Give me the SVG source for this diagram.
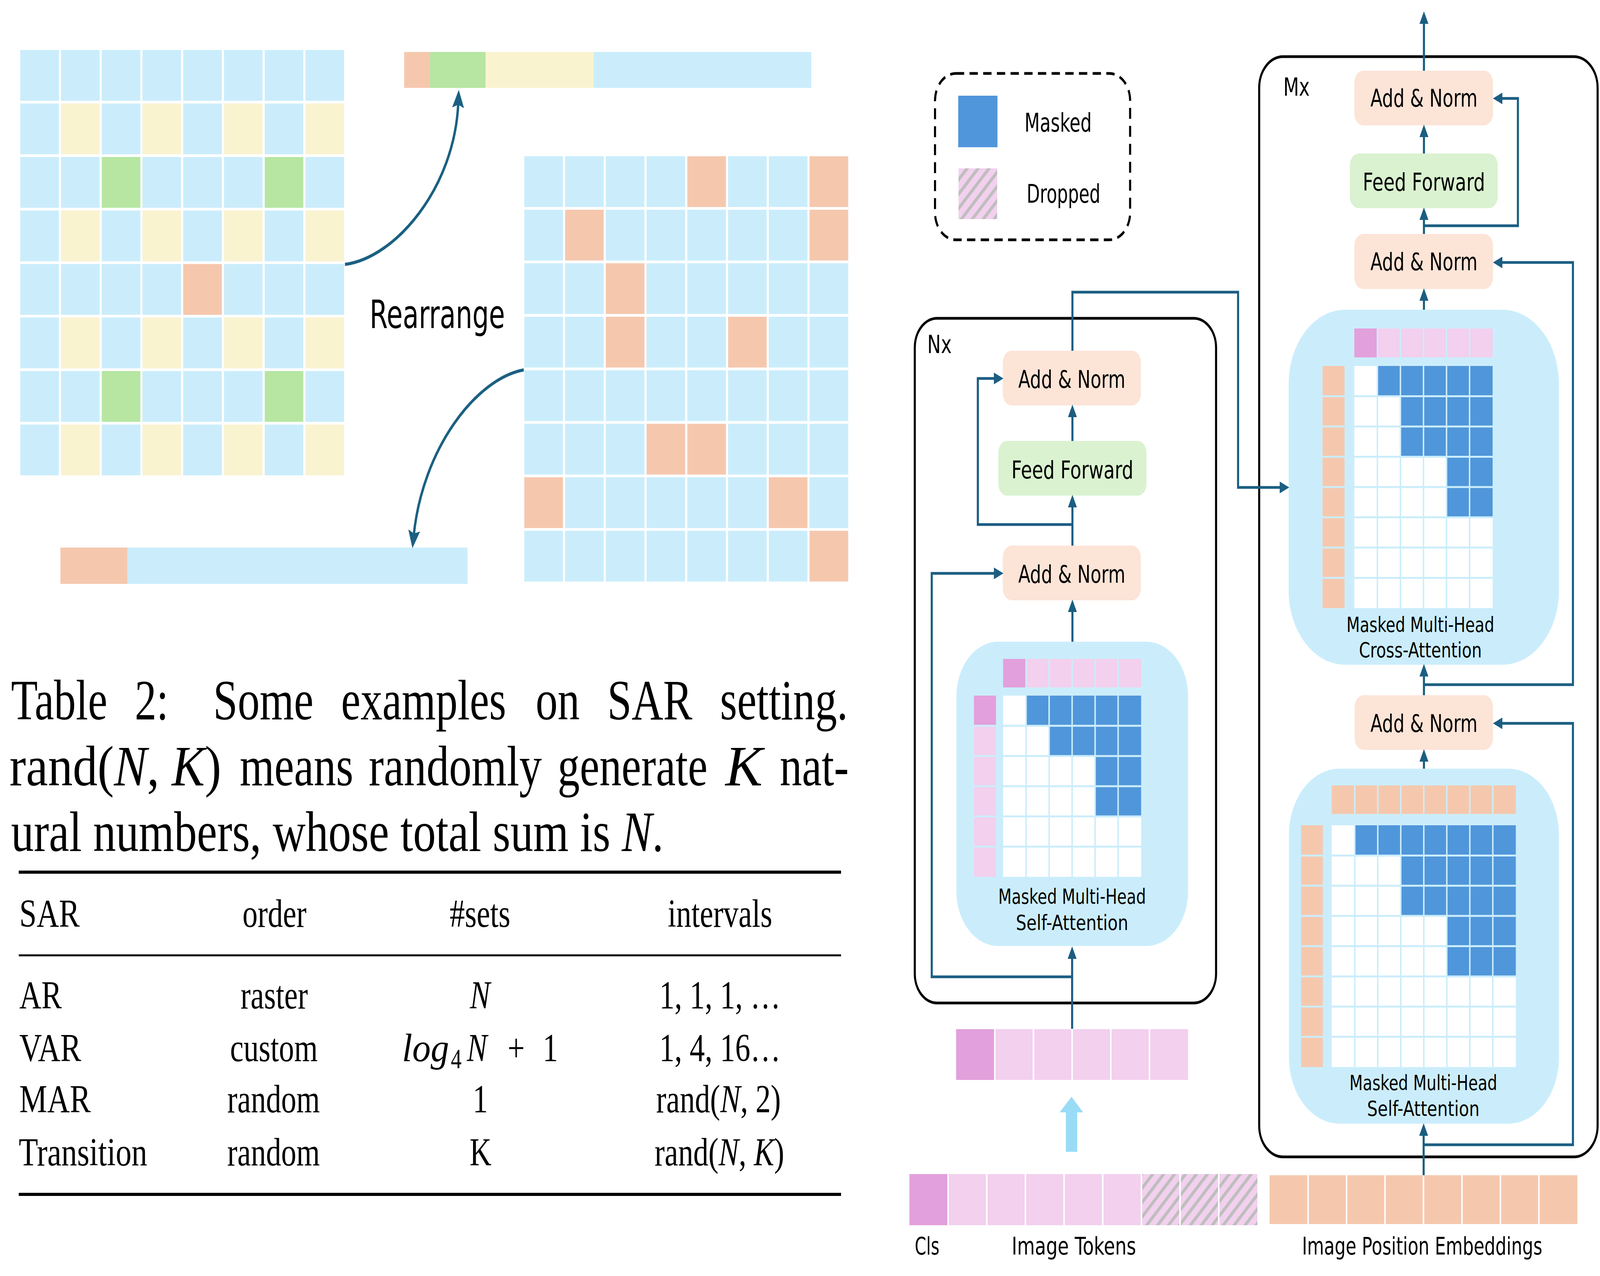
<svg xmlns="http://www.w3.org/2000/svg" width="5380" height="3267" viewBox="0 0 5380 3267" preserveAspectRatio="none">
<defs>
<style>
svg:root{width:100vw;height:100vh;display:block}
.lb{fill:#CBEDFB}
.yl{fill:#FAF3D0}
.gr{fill:#B6E6A2}
.or{fill:#F5C8AE}
.pd{fill:#E2A0DC}
.pl{fill:#F2D0EE}
.mk{fill:#5096DA}
.wh{fill:#FFFFFF}
.an{fill:#FCE4D7}
.ff{fill:#DAF2D0}
.gapw{stroke:#FFFFFF;fill:none}
.gapb{stroke:#CBEDFB;fill:none;stroke-width:5}
.conn{stroke:#1B5E82;stroke-width:7;fill:none}
.curve{stroke:#1A6082;stroke-width:8;fill:none}
.box{fill:none;stroke:#000000;stroke-width:7}
.t{font-family:"DejaVu Sans",sans-serif;fill:#000000}
.s{font-family:"Liberation Serif","Times New Roman",serif;fill:#000000}
</style>
<marker id="ah" markerUnits="userSpaceOnUse" markerWidth="32" markerHeight="30" viewBox="0 0 32 30" refX="10" refY="15" orient="auto">
<path d="M0,0 L32,15 L0,30 z" fill="#1B5E82"/>
</marker>
<marker id="ahc" markerUnits="userSpaceOnUse" markerWidth="46" markerHeight="40" viewBox="0 0 46 40" refX="14" refY="20" orient="auto">
<path d="M0,0 L46,20 L0,40 L8,20 z" fill="#1A6082"/>
</marker>
<pattern id="hatch" width="26" height="26" patternUnits="userSpaceOnUse" patternTransform="rotate(45)">
<rect width="26" height="26" fill="#F2D0EE"/>
<rect width="9" height="26" fill="#BEBEBE"/>
</pattern>
</defs>
<rect width="5380" height="3267" fill="#FFFFFF"/>

<!-- Left grid A -->
<g id="gridA">
<rect class="lb" x="68" y="128" width="1089" height="1089"/>
<rect class="yl" x="205" y="265" width="137" height="137"/><rect class="yl" x="479" y="265" width="137" height="137"/><rect class="yl" x="753" y="265" width="137" height="137"/><rect class="yl" x="1027" y="265" width="130" height="137"/>
<rect class="yl" x="205" y="539" width="137" height="137"/><rect class="yl" x="479" y="539" width="137" height="137"/><rect class="yl" x="753" y="539" width="137" height="137"/><rect class="yl" x="1027" y="539" width="130" height="137"/>
<rect class="yl" x="205" y="813" width="137" height="137"/><rect class="yl" x="479" y="813" width="137" height="137"/><rect class="yl" x="753" y="813" width="137" height="137"/><rect class="yl" x="1027" y="813" width="130" height="137"/>
<rect class="yl" x="205" y="1087" width="137" height="130"/><rect class="yl" x="479" y="1087" width="137" height="130"/><rect class="yl" x="753" y="1087" width="137" height="130"/><rect class="yl" x="1027" y="1087" width="130" height="130"/>
<rect class="gr" x="342" y="402" width="137" height="137"/><rect class="gr" x="890" y="402" width="137" height="137"/>
<rect class="gr" x="342" y="950" width="137" height="137"/><rect class="gr" x="890" y="950" width="137" height="137"/>
<rect class="or" x="616" y="676" width="137" height="137"/>
<path class="gapw" stroke-width="7" d="M201.5,128V1217M338.5,128V1217M475.5,128V1217M612.5,128V1217M749.5,128V1217M886.5,128V1217M1023.5,128V1217M68,261.5H1157M68,398.5H1157M68,535.5H1157M68,672.5H1157M68,809.5H1157M68,946.5H1157M68,1083.5H1157"/>
</g>

<!-- Right grid B -->
<g id="gridB">
<rect class="lb" x="1763" y="400" width="1089" height="1089"/>
<rect class="or" x="2311" y="400" width="137" height="137"/><rect class="or" x="2722" y="400" width="130" height="137"/>
<rect class="or" x="1900" y="537" width="137" height="137"/><rect class="or" x="2722" y="537" width="130" height="137"/>
<rect class="or" x="2037" y="674" width="137" height="137"/>
<rect class="or" x="2037" y="811" width="137" height="137"/><rect class="or" x="2448" y="811" width="137" height="137"/>
<rect class="or" x="2174" y="1085" width="137" height="137"/><rect class="or" x="2311" y="1085" width="137" height="137"/>
<rect class="or" x="1763" y="1222" width="137" height="137"/><rect class="or" x="2585" y="1222" width="137" height="137"/>
<rect class="or" x="2722" y="1359" width="130" height="130"/>
<path class="gapw" stroke-width="7" d="M1896.5,400V1489M2033.5,400V1489M2170.5,400V1489M2307.5,400V1489M2444.5,400V1489M2581.5,400V1489M2718.5,400V1489M1763,533.5H2852M1763,670.5H2852M1763,807.5H2852M1763,944.5H2852M1763,1081.5H2852M1763,1218.5H2852M1763,1355.5H2852"/>
</g>

<g id="topBar">
<rect class="or" x="1359" y="133" width="87" height="92"/>
<rect class="gr" x="1446" y="133" width="187" height="92"/>
<rect class="yl" x="1633" y="133" width="363" height="92"/>
<rect class="lb" x="1996" y="133" width="732" height="92"/>
</g>
<g id="bottomBar">
<rect class="or" x="203" y="1402" width="226" height="93"/>
<rect class="lb" x="429" y="1402" width="1143" height="93"/>
</g>
<g id="rearrangeLabel">
<text class="t" x="1243" y="840" font-size="100" textLength="455" lengthAdjust="spacingAndGlyphs">Rearrange</text>
</g>

<!-- Caption and table -->
<g id="caption">
<text class="s" x="37" y="1842" font-size="146" textLength="324" lengthAdjust="spacingAndGlyphs">Table</text>
<text class="s" x="453" y="1842" font-size="146">2:</text>
<text class="s" x="717" y="1842" font-size="146" textLength="337" lengthAdjust="spacingAndGlyphs">Some</text>
<text class="s" x="1147" y="1842" font-size="146" textLength="555" lengthAdjust="spacingAndGlyphs">examples</text>
<text class="s" x="1801" y="1842" font-size="146" textLength="148" lengthAdjust="spacingAndGlyphs">on</text>
<text class="s" x="2042" y="1842" font-size="146" textLength="286" lengthAdjust="spacingAndGlyphs">SAR</text>
<text class="s" x="2421" y="1842" font-size="146" textLength="430" lengthAdjust="spacingAndGlyphs">setting.</text>
<text class="s" x="32" y="2011" font-size="146" textLength="712" lengthAdjust="spacingAndGlyphs">rand(<tspan font-style="italic">N</tspan>, <tspan font-style="italic">K</tspan>)</text>
<text class="s" x="806" y="2011" font-size="146" textLength="382" lengthAdjust="spacingAndGlyphs">means</text>
<text class="s" x="1240" y="2011" font-size="146" textLength="582" lengthAdjust="spacingAndGlyphs">randomly</text>
<text class="s" x="1875" y="2011" font-size="146" textLength="504" lengthAdjust="spacingAndGlyphs">generate</text>
<text class="s" x="2439" y="2011" font-size="146" font-style="italic" textLength="125" lengthAdjust="spacingAndGlyphs">K</text>
<text class="s" x="2622" y="2011" font-size="146" textLength="232" lengthAdjust="spacingAndGlyphs">nat-</text>
<text class="s" x="37" y="2179" font-size="146" textLength="2194" lengthAdjust="spacingAndGlyphs">ural numbers, whose total sum is <tspan font-style="italic">N</tspan>.</text>
</g>
<g id="table">
<path d="M63,2233H2828" stroke="#000" stroke-width="8"/>
<path d="M63,2446H2828" stroke="#000" stroke-width="5"/>
<path d="M63,3058H2828" stroke="#000" stroke-width="8"/>
<text class="s" x="65" y="2373" font-size="102" textLength="203" lengthAdjust="spacingAndGlyphs">SAR</text>
<text class="s" x="923" y="2373" font-size="102" text-anchor="middle">order</text>
<text class="s" x="1614" y="2373" font-size="102" text-anchor="middle">#sets</text>
<text class="s" x="2421" y="2373" font-size="102" text-anchor="middle">intervals</text>
<text class="s" x="65" y="2582" font-size="102" textLength="143" lengthAdjust="spacingAndGlyphs">AR</text>
<text class="s" x="922" y="2582" font-size="102" text-anchor="middle">raster</text>
<text class="s" x="1614" y="2582" font-size="102" text-anchor="middle" font-style="italic">N</text>
<text class="s" x="2421" y="2582" font-size="102" text-anchor="middle">1, 1, 1, …</text>
<text class="s" x="65" y="2717" font-size="102" textLength="208" lengthAdjust="spacingAndGlyphs">VAR</text>
<text class="s" x="921" y="2717" font-size="102" text-anchor="middle">custom</text>
<text class="s" x="1352" y="2717" font-size="102" font-style="italic" textLength="158" lengthAdjust="spacingAndGlyphs">log</text>
<text class="s" x="1516" y="2735" font-size="72">4</text>
<text class="s" x="1570" y="2717" font-size="102" font-style="italic">N</text>
<text class="s" x="1707" y="2717" font-size="102">+</text>
<text class="s" x="1825" y="2717" font-size="102">1</text>
<text class="s" x="2421" y="2717" font-size="102" text-anchor="middle">1, 4, 16…</text>
<text class="s" x="65" y="2848" font-size="102" textLength="240" lengthAdjust="spacingAndGlyphs">MAR</text>
<text class="s" x="920" y="2848" font-size="102" text-anchor="middle">random</text>
<text class="s" x="1615" y="2848" font-size="102" text-anchor="middle">1</text>
<text class="s" x="2416" y="2848" font-size="102" text-anchor="middle">rand(<tspan font-style="italic">N</tspan>, 2)</text>
<text class="s" x="63" y="2984" font-size="102" textLength="432" lengthAdjust="spacingAndGlyphs">Transition</text>
<text class="s" x="920" y="2984" font-size="102" text-anchor="middle">random</text>
<text class="s" x="1616" y="2984" font-size="102" text-anchor="middle">K</text>
<text class="s" x="2419" y="2984" font-size="102" text-anchor="middle">rand(<tspan font-style="italic">N</tspan>, <tspan font-style="italic">K</tspan>)</text>
</g>

<!-- Legend -->
<g id="legend">
<rect x="3144" y="188" width="656" height="426" rx="70" fill="none" stroke="#000" stroke-width="7" stroke-dasharray="28 18"/>
<rect class="mk" x="3222" y="245" width="132" height="132"/>
<rect x="3223" y="431" width="130" height="130" fill="url(#hatch)"/>
<text class="t" x="3445" y="337" font-size="66" textLength="226" lengthAdjust="spacingAndGlyphs">Masked</text>
<text class="t" x="3452" y="519" font-size="66" textLength="248" lengthAdjust="spacingAndGlyphs">Dropped</text>
</g>

<!-- Nx block -->
<g id="nxBox">
<rect class="box" x="3076" y="815" width="1013" height="1753" rx="75"/>
<text class="t" x="3118" y="904" font-size="64" textLength="82" lengthAdjust="spacingAndGlyphs">Nx</text>
</g>
<g id="nxAddNormTop">
<rect class="an" x="3372" y="898" width="464" height="140" rx="30"/>
<text class="t" x="3604" y="993" font-size="62" text-anchor="middle" textLength="360" lengthAdjust="spacingAndGlyphs">Add &amp; Norm</text>
</g>
<g id="nxFeedForward">
<rect class="ff" x="3357" y="1129" width="498" height="140" rx="30"/>
<text class="t" x="3606" y="1225" font-size="62" text-anchor="middle" textLength="410" lengthAdjust="spacingAndGlyphs">Feed Forward</text>
</g>
<g id="nxAddNormBottom">
<rect class="an" x="3372" y="1397" width="464" height="140" rx="30"/>
<text class="t" x="3604" y="1492" font-size="62" text-anchor="middle" textLength="360" lengthAdjust="spacingAndGlyphs">Add &amp; Norm</text>
</g>
<g id="nxSelfAttention">
<rect class="lb" x="3216" y="1643" width="779" height="779" rx="140"/>
<rect class="pl" x="3373" y="1687" width="464" height="73"/>
<rect class="pd" x="3373" y="1687" width="77.3" height="73"/>
<rect class="pl" x="3275" y="1781" width="74" height="464"/>
<rect class="pd" x="3275" y="1781" width="74" height="77.3"/>
<rect class="wh" x="3373" y="1781" width="464" height="464"/>
<rect class="mk" x="3450.3" y="1781" width="386.7" height="77.3"/>
<rect class="mk" x="3527.7" y="1858.3" width="309.3" height="77.4"/>
<rect class="mk" x="3682.3" y="1935.7" width="154.7" height="154.6"/>
<path class="gapb" d="M3450.3,1687V1760M3527.7,1687V1760M3605,1687V1760M3682.3,1687V1760M3759.7,1687V1760M3450.3,1781V2245M3527.7,1781V2245M3605,1781V2245M3682.3,1781V2245M3759.7,1781V2245M3275,1858.3H3837M3275,1935.7H3837M3275,2013H3837M3275,2090.3H3837M3275,2167.7H3837"/>
<text class="t" x="3605" y="2314" font-size="54" text-anchor="middle" textLength="497" lengthAdjust="spacingAndGlyphs">Masked Multi-Head</text>
<text class="t" x="3605" y="2381" font-size="54" text-anchor="middle" textLength="378" lengthAdjust="spacingAndGlyphs">Self-Attention</text>
</g>
<g id="nxInputTokens">
<rect class="pl" x="3215" y="2635" width="780" height="130"/>
<rect class="pd" x="3215" y="2635" width="130" height="130"/>
<path class="gapw" stroke-width="5" d="M3345,2635V2765M3475,2635V2765M3605,2635V2765M3735,2635V2765M3865,2635V2765"/>
</g>
<g id="bigArrow">
<polygon points="3584,2949 3622,2949 3622,2848 3642,2848 3603,2808 3563,2848 3584,2848" fill="#9ADCF6"/>
</g>
<g id="imageTokens">
<rect class="pl" x="3058" y="3006" width="780" height="131"/>
<rect class="pd" x="3058" y="3006" width="130" height="131"/>
<rect x="3838" y="3006" width="390" height="131" fill="url(#hatch)"/>
<path class="gapw" stroke-width="5" d="M3188,3006V3137M3318,3006V3137M3448,3006V3137M3578,3006V3137M3708,3006V3137M3838,3006V3137M3968,3006V3137M4098,3006V3137"/>
<text class="t" x="3076" y="3212" font-size="62" textLength="83" lengthAdjust="spacingAndGlyphs">Cls</text>
<text class="t" x="3611" y="3212" font-size="62" text-anchor="middle" textLength="418" lengthAdjust="spacingAndGlyphs">Image Tokens</text>
</g>
<g id="posEmbeddings">
<rect class="or" x="4269" y="3009" width="1035" height="125"/>
<path class="gapw" stroke-width="5" d="M4398.4,3009V3134M4527.8,3009V3134M4657.1,3009V3134M4786.5,3009V3134M4915.9,3009V3134M5045.3,3009V3134M5174.6,3009V3134"/>
<text class="t" x="4782" y="3212" font-size="62" text-anchor="middle" textLength="808" lengthAdjust="spacingAndGlyphs">Image Position Embeddings</text>
</g>

<!-- Mx block -->
<g id="mxBox">
<rect class="box" x="4234" y="145" width="1138" height="2817" rx="80"/>
<text class="t" x="4315" y="245" font-size="64" textLength="89" lengthAdjust="spacingAndGlyphs">Mx</text>
</g>
<g id="mxAddNorm1">
<rect class="an" x="4554" y="181" width="466" height="140" rx="30"/>
<text class="t" x="4788" y="273" font-size="62" text-anchor="middle" textLength="360" lengthAdjust="spacingAndGlyphs">Add &amp; Norm</text>
</g>
<g id="mxFeedForward">
<rect class="ff" x="4539" y="393" width="497" height="140" rx="30"/>
<text class="t" x="4788" y="488" font-size="62" text-anchor="middle" textLength="411" lengthAdjust="spacingAndGlyphs">Feed Forward</text>
</g>
<g id="mxAddNorm2">
<rect class="an" x="4554" y="599" width="466" height="141" rx="30"/>
<text class="t" x="4788" y="692" font-size="62" text-anchor="middle" textLength="360" lengthAdjust="spacingAndGlyphs">Add &amp; Norm</text>
</g>
<g id="mxCrossAttention">
<rect class="lb" x="4333" y="793" width="909" height="909" rx="190"/>
<rect class="pl" x="4554" y="841" width="465" height="74"/>
<rect class="pd" x="4554" y="841" width="77.5" height="74"/>
<rect class="or" x="4447" y="937" width="74" height="620"/>
<rect class="wh" x="4554" y="937" width="465" height="620"/>
<rect class="mk" x="4631.5" y="937" width="387.5" height="77.5"/>
<rect class="mk" x="4709" y="1014.5" width="310" height="155"/>
<rect class="mk" x="4864" y="1169.5" width="155" height="155"/>
<path class="gapb" d="M4631.5,841V915M4709,841V915M4786.5,841V915M4864,841V915M4941.5,841V915M4631.5,937V1557M4709,937V1557M4786.5,937V1557M4864,937V1557M4941.5,937V1557M4447,1014.5H5019M4447,1092H5019M4447,1169.5H5019M4447,1247H5019M4447,1324.5H5019M4447,1402H5019M4447,1479.5H5019"/>
<text class="t" x="4776" y="1618" font-size="54" text-anchor="middle" textLength="497" lengthAdjust="spacingAndGlyphs">Masked Multi-Head</text>
<text class="t" x="4776" y="1683" font-size="54" text-anchor="middle" textLength="413" lengthAdjust="spacingAndGlyphs">Cross-Attention</text>
</g>
<g id="mxAddNorm3">
<rect class="an" x="4555" y="1780" width="465" height="140" rx="30"/>
<text class="t" x="4788" y="1874" font-size="62" text-anchor="middle" textLength="360" lengthAdjust="spacingAndGlyphs">Add &amp; Norm</text>
</g>
<g id="mxSelfAttention">
<rect class="lb" x="4334" y="1968" width="908" height="909" rx="170"/>
<rect class="or" x="4478" y="2011" width="619" height="73"/>
<rect class="or" x="4375" y="2113" width="73" height="619"/>
<rect class="wh" x="4478" y="2113" width="619" height="619"/>
<rect class="mk" x="4555.4" y="2113" width="541.6" height="77.4"/>
<rect class="mk" x="4710.1" y="2190.4" width="386.9" height="154.7"/>
<rect class="mk" x="4864.9" y="2345.1" width="232.1" height="154.8"/>
<path class="gapb" d="M4555.4,2011V2084M4632.8,2011V2084M4710.1,2011V2084M4787.5,2011V2084M4864.9,2011V2084M4942.3,2011V2084M5019.6,2011V2084M4555.4,2113V2732M4632.8,2113V2732M4710.1,2113V2732M4787.5,2113V2732M4864.9,2113V2732M4942.3,2113V2732M5019.6,2113V2732M4375,2190.4H5097M4375,2267.8H5097M4375,2345.1H5097M4375,2422.5H5097M4375,2499.9H5097M4375,2577.3H5097M4375,2654.6H5097"/>
<text class="t" x="4786" y="2791" font-size="54" text-anchor="middle" textLength="497" lengthAdjust="spacingAndGlyphs">Masked Multi-Head</text>
<text class="t" x="4786" y="2857" font-size="54" text-anchor="middle" textLength="378" lengthAdjust="spacingAndGlyphs">Self-Attention</text>
</g>

<!-- Connectors -->
<g id="connectors">
<path class="curve" marker-end="url(#ahc)" d="M1160,677 C1330,660 1530,480 1541,262"/>
<path class="curve" marker-end="url(#ahc)" d="M1761,947 C1600,970 1420,1150 1391,1372"/>
<path class="conn" marker-end="url(#ah)" d="M4788,181V51"/>
<path class="conn" marker-end="url(#ah)" d="M4788,599V553"/>
<path class="conn" marker-end="url(#ah)" d="M4788,393V341"/>
<path class="conn" marker-end="url(#ah)" d="M4788,578H5104V252H5042"/>
<path class="conn" marker-end="url(#ah)" d="M4788,793V760"/>
<path class="conn" marker-end="url(#ah)" d="M4788,1753H5289V672H5042"/>
<path class="conn" marker-end="url(#ah)" d="M4788,1780V1722"/>
<path class="conn" marker-end="url(#ah)" d="M4787,2931H5289V1852H5042"/>
<path class="conn" marker-end="url(#ah)" d="M4788,1968V1940"/>
<path class="conn" marker-end="url(#ah)" d="M4787,3009V2898"/>
<path class="conn" marker-end="url(#ah)" d="M3606,898V748H4163V1248H4313"/>
<path class="conn" marker-end="url(#ah)" d="M3606,1129V1058"/>
<path class="conn" marker-end="url(#ah)" d="M3606,1397V1289"/>
<path class="conn" marker-end="url(#ah)" d="M3606,1643V1557"/>
<path class="conn" marker-end="url(#ah)" d="M3606,1343H3288V969H3352"/>
<path class="conn" marker-end="url(#ah)" d="M3606,2501H3133V1468H3352"/>
<path class="conn" marker-end="url(#ah)" d="M3605,2634V2445"/>
</g>
</svg>
